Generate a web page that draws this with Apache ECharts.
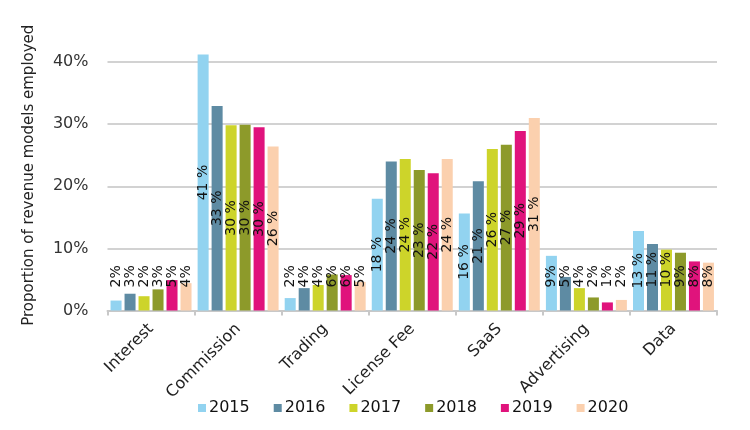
<!DOCTYPE html>
<html>
<head>
<meta charset="utf-8">
<script src="https://cdn.jsdelivr.net/npm/echarts@6/dist/echarts.min.js"></script>
<style>html,body{margin:0;padding:0;background:#fff;}#c{width:750px;height:430px;}</style>
</head>
<body>
<div id="c"></div>
<script>
const categories = ['Interest', 'Commission', 'Trading', 'License Fee', 'SaaS', 'Advertising', 'Data'];
const years = ['2015', '2016', '2017', '2018', '2019', '2020'];
const v2015 = [1.6, 41.2, 2.0, 18.0, 15.6, 8.8, 12.8];
const v2016 = [2.7, 32.9, 3.6, 24.0, 20.8, 5.4, 10.7];
const v2017 = [2.3, 29.8, 4.1, 24.4, 26.0, 3.6, 9.8];
const v2018 = [3.4, 29.9, 5.8, 22.6, 26.7, 2.1, 9.3];
const v2019 = [4.9, 29.5, 5.7, 22.1, 28.9, 1.3, 7.9];
const v2020 = [4.4, 26.4, 4.6, 24.4, 31.0, 1.7, 7.7];
const yTicks = [0, 10, 20, 30, 40];
const colors = ['#92d3f0', '#5e8ba3', '#cdd42a', '#8d9a2a', '#e0137c', '#fbd0ae'];
const seriesValues = [v2015, v2016, v2017, v2018, v2019, v2020];

const FONT = 'DejaVu Sans';

function fmt(v) {
  const r = Math.round(v);
  return r >= 10 ? r + ' %' : r + '%';
}

function makeData(arr) {
  return arr.map(function (v) {
    const big = v >= 12;
    return {
      value: v,
      label: big ? {
        position: 'inside', rotate: 90, align: 'center', verticalAlign: 'middle'
      } : {
        position: 'insideBottom', distance: 23, rotate: 90, align: 'left', verticalAlign: 'middle'
      }
    };
  });
}

const chart = echarts.init(document.getElementById('c'), null, {renderer: 'canvas'});
chart.setOption({
  animation: false,
  color: colors,
  grid: {left: 107.5, right: 33, top: 62, bottom: 119.5, containLabel: false},
  legend: {
    data: years,
    left: 198,
    top: 400,
    padding: 0,
    itemWidth: 8,
    itemHeight: 8,
    itemGap: 24,
    icon: 'rect',
    textStyle: {fontFamily: FONT, fontSize: 16, color: '#111', padding: [0, 0, 0, -2]}
  },
  xAxis: {
    type: 'category',
    data: categories,
    axisLine: {show: true, lineStyle: {color: '#c8c8c8', width: 2}},
    axisTick: {show: true, length: 5, alignWithLabel: false, lineStyle: {color: '#c8c8c8', width: 2}},
    axisLabel: {rotate: 45, margin: 16, fontFamily: FONT, fontSize: 16, color: '#222', interval: 0}
  },
  yAxis: {
    type: 'value',
    min: yTicks[0],
    max: yTicks[yTicks.length - 1],
    interval: 10,
    name: 'Proportion of revenue models employed',
    nameLocation: 'middle',
    nameGap: 71,
    nameTextStyle: {fontFamily: FONT, fontSize: 15, color: '#222', padding: [0, 0, 0, 22]},
    axisLine: {show: false},
    axisTick: {show: false},
    axisLabel: {formatter: '{value}%', margin: 19, fontFamily: FONT, fontSize: 16, color: '#333'},
    splitLine: {show: true, lineStyle: {color: '#d2d2d2', width: 2}}
  },
  series: seriesValues.map(function (arr, i) {
    return {
      name: years[i],
      type: 'bar',
      data: makeData(arr),
      clip: false,
      barGap: '27%',
      barCategoryGap: '7%',
      label: {
        show: true,
        formatter: function (p) { return fmt(p.value); },
        fontFamily: FONT,
        fontSize: 14,
        color: '#111'
      }
    };
  })
});
</script>
</body>
</html>
